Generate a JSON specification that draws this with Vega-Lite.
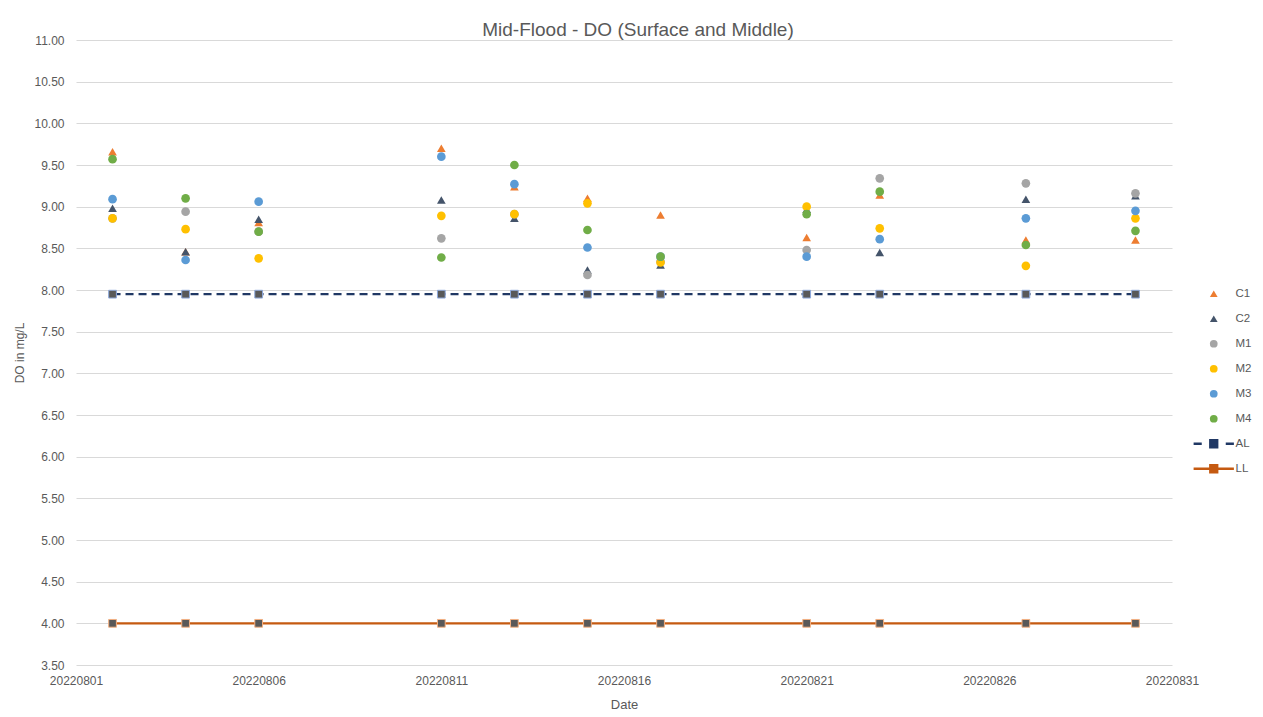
{
  "$schema": "https://vega.github.io/schema/vega-lite/v6.json",
  "width": 1096,
  "height": 625,
  "autosize": {"type": "none"},
  "padding": {"left": 76, "top": 40, "right": 91, "bottom": 52},
  "background": "white",
  "title": {
    "text": "Mid-Flood - DO (Surface and Middle)",
    "anchor": "middle",
    "dx": 14,
    "offset": -21,
    "baseline": "alphabetic",
    "fontSize": 19,
    "fontWeight": "normal",
    "color": "#595959",
    "font": "Liberation Sans"
  },
  "config": {
    "view": {"stroke": null},
    "font": "Liberation Sans"
  },
  "datasets": {
    "obs": [
      {"date": "2022-08-02", "series": "C1", "value": 9.66},
      {"date": "2022-08-04", "series": "C1", "value": 8.46},
      {"date": "2022-08-06", "series": "C1", "value": 8.81},
      {"date": "2022-08-11", "series": "C1", "value": 9.70},
      {"date": "2022-08-13", "series": "C1", "value": 9.24},
      {"date": "2022-08-15", "series": "C1", "value": 9.10},
      {"date": "2022-08-17", "series": "C1", "value": 8.90},
      {"date": "2022-08-21", "series": "C1", "value": 8.63},
      {"date": "2022-08-23", "series": "C1", "value": 9.14},
      {"date": "2022-08-27", "series": "C1", "value": 8.60},
      {"date": "2022-08-30", "series": "C1", "value": 8.60},
      {"date": "2022-08-02", "series": "C2", "value": 8.98},
      {"date": "2022-08-04", "series": "C2", "value": 8.46},
      {"date": "2022-08-06", "series": "C2", "value": 8.85},
      {"date": "2022-08-11", "series": "C2", "value": 9.08},
      {"date": "2022-08-13", "series": "C2", "value": 8.86},
      {"date": "2022-08-15", "series": "C2", "value": 8.24},
      {"date": "2022-08-17", "series": "C2", "value": 8.30},
      {"date": "2022-08-21", "series": "C2", "value": 8.97},
      {"date": "2022-08-23", "series": "C2", "value": 8.45},
      {"date": "2022-08-27", "series": "C2", "value": 9.09},
      {"date": "2022-08-30", "series": "C2", "value": 9.13},
      {"date": "2022-08-02", "series": "M1", "value": 8.86},
      {"date": "2022-08-04", "series": "M1", "value": 8.94},
      {"date": "2022-08-06", "series": "M1", "value": 8.70},
      {"date": "2022-08-11", "series": "M1", "value": 8.62},
      {"date": "2022-08-13", "series": "M1", "value": 8.91},
      {"date": "2022-08-15", "series": "M1", "value": 8.18},
      {"date": "2022-08-17", "series": "M1", "value": 8.34},
      {"date": "2022-08-21", "series": "M1", "value": 8.48},
      {"date": "2022-08-23", "series": "M1", "value": 9.34},
      {"date": "2022-08-27", "series": "M1", "value": 9.28},
      {"date": "2022-08-30", "series": "M1", "value": 9.16},
      {"date": "2022-08-02", "series": "M2", "value": 8.86},
      {"date": "2022-08-04", "series": "M2", "value": 8.73},
      {"date": "2022-08-06", "series": "M2", "value": 8.38},
      {"date": "2022-08-11", "series": "M2", "value": 8.89},
      {"date": "2022-08-13", "series": "M2", "value": 8.91},
      {"date": "2022-08-15", "series": "M2", "value": 9.04},
      {"date": "2022-08-17", "series": "M2", "value": 8.33},
      {"date": "2022-08-21", "series": "M2", "value": 9.00},
      {"date": "2022-08-23", "series": "M2", "value": 8.74},
      {"date": "2022-08-27", "series": "M2", "value": 8.29},
      {"date": "2022-08-30", "series": "M2", "value": 8.86},
      {"date": "2022-08-02", "series": "M3", "value": 9.09},
      {"date": "2022-08-04", "series": "M3", "value": 8.36},
      {"date": "2022-08-06", "series": "M3", "value": 9.06},
      {"date": "2022-08-11", "series": "M3", "value": 9.60},
      {"date": "2022-08-13", "series": "M3", "value": 9.27},
      {"date": "2022-08-15", "series": "M3", "value": 8.51},
      {"date": "2022-08-17", "series": "M3", "value": 8.40},
      {"date": "2022-08-21", "series": "M3", "value": 8.40},
      {"date": "2022-08-23", "series": "M3", "value": 8.61},
      {"date": "2022-08-27", "series": "M3", "value": 8.86},
      {"date": "2022-08-30", "series": "M3", "value": 8.95},
      {"date": "2022-08-02", "series": "M4", "value": 9.57},
      {"date": "2022-08-04", "series": "M4", "value": 9.10},
      {"date": "2022-08-06", "series": "M4", "value": 8.70},
      {"date": "2022-08-11", "series": "M4", "value": 8.39},
      {"date": "2022-08-13", "series": "M4", "value": 9.50},
      {"date": "2022-08-15", "series": "M4", "value": 8.72},
      {"date": "2022-08-17", "series": "M4", "value": 8.40},
      {"date": "2022-08-21", "series": "M4", "value": 8.91},
      {"date": "2022-08-23", "series": "M4", "value": 9.18},
      {"date": "2022-08-27", "series": "M4", "value": 8.54},
      {"date": "2022-08-30", "series": "M4", "value": 8.71}
    ],
    "limits": [
      {"date": "2022-08-02", "series": "AL", "value": 7.95},
      {"date": "2022-08-04", "series": "AL", "value": 7.95},
      {"date": "2022-08-06", "series": "AL", "value": 7.95},
      {"date": "2022-08-11", "series": "AL", "value": 7.95},
      {"date": "2022-08-13", "series": "AL", "value": 7.95},
      {"date": "2022-08-15", "series": "AL", "value": 7.95},
      {"date": "2022-08-17", "series": "AL", "value": 7.95},
      {"date": "2022-08-21", "series": "AL", "value": 7.95},
      {"date": "2022-08-23", "series": "AL", "value": 7.95},
      {"date": "2022-08-27", "series": "AL", "value": 7.95},
      {"date": "2022-08-30", "series": "AL", "value": 7.95},
      {"date": "2022-08-02", "series": "LL", "value": 4.0},
      {"date": "2022-08-04", "series": "LL", "value": 4.0},
      {"date": "2022-08-06", "series": "LL", "value": 4.0},
      {"date": "2022-08-11", "series": "LL", "value": 4.0},
      {"date": "2022-08-13", "series": "LL", "value": 4.0},
      {"date": "2022-08-15", "series": "LL", "value": 4.0},
      {"date": "2022-08-17", "series": "LL", "value": 4.0},
      {"date": "2022-08-21", "series": "LL", "value": 4.0},
      {"date": "2022-08-23", "series": "LL", "value": 4.0},
      {"date": "2022-08-27", "series": "LL", "value": 4.0},
      {"date": "2022-08-30", "series": "LL", "value": 4.0}
    ]
  },
  "encoding": {
    "x": {
      "field": "date",
      "type": "temporal",
      "title": "Date",
      "scale": {
        "type": "utc",
        "domain": [
          {"year": 2022, "month": 8, "date": 1, "utc": true},
          {"year": 2022, "month": 8, "date": 31, "utc": true}
        ]
      },
      "axis": {
        "values": [
          {"year": 2022, "month": 8, "date": 1, "utc": true},
          {"year": 2022, "month": 8, "date": 6, "utc": true},
          {"year": 2022, "month": 8, "date": 11, "utc": true},
          {"year": 2022, "month": 8, "date": 16, "utc": true},
          {"year": 2022, "month": 8, "date": 21, "utc": true},
          {"year": 2022, "month": 8, "date": 26, "utc": true},
          {"year": 2022, "month": 8, "date": 31, "utc": true}
        ],
        "labelExpr": "utcFormat(datum.value, '%Y%m%d')",
        "grid": false,
        "domain": false,
        "ticks": false,
        "tickSize": 0,
        "labelPadding": 10,
        "labelFontSize": 12,
        "labelColor": "#595959",
        "labelFlush": false,
        "labelOverlap": false,
        "titleFontSize": 13,
        "titleFontWeight": "normal",
        "titleColor": "#595959",
        "titlePadding": 12
      }
    },
    "y": {
      "field": "value",
      "type": "quantitative",
      "title": "DO in mg/L",
      "scale": {"domain": [3.5, 11], "nice": false, "zero": false},
      "axis": {
        "values": [3.5, 4, 4.5, 5, 5.5, 6, 6.5, 7, 7.5, 8, 8.5, 9, 9.5, 10, 10.5, 11],
        "format": ".2f",
        "grid": true,
        "gridColor": "#D9D9D9",
        "gridWidth": 1,
        "domain": false,
        "ticks": false,
        "tickSize": 0,
        "labelPadding": 12,
        "labelFontSize": 12,
        "labelColor": "#595959",
        "titleFontSize": 12,
        "titleFontWeight": "normal",
        "titleColor": "#595959",
        "titlePadding": 7
      }
    }
  },
  "layer": [
    {
      "data": {"name": "obs"},
      "mark": {"type": "point", "filled": true, "opacity": 1, "size": 75},
      "encoding": {
        "color": {
          "field": "series",
          "type": "nominal",
          "scale": {
            "domain": ["C1", "C2", "M1", "M2", "M3", "M4", "AL", "LL"],
            "range": ["#ED7D31", "#44546A", "#A5A5A5", "#FFC000", "#5B9BD5", "#70AD47", "#203864", "#C55A11"]
          },
          "legend": {
            "title": null,
            "orient": "none",
            "legendX": 1132,
            "legendY": 248,
            "padding": 0,
            "labelFontSize": 11.5,
            "labelColor": "#595959",
            "symbolSize": 60,
            "rowPadding": 12,
            "labelOffset": 16,
            "symbolStrokeWidth": 0,
            "symbolOpacity": 1
          }
        },
        "shape": {
          "field": "series",
          "type": "nominal",
          "scale": {
            "domain": ["C1", "C2", "M1", "M2", "M3", "M4", "AL", "LL"],
            "range": [
              "triangle-up", "triangle-up", "circle", "circle", "circle", "circle",
              "M-5.2,-0.3H-3.1V0.3H-5.2Z M-1.2,-1.2H1.2V1.2H-1.2Z M3.1,-0.3H5.2V0.3H3.1Z",
              "M-5.2,-0.3H5.2V0.3H-5.2Z M-1.2,-1.2H1.2V1.2H-1.2Z"
            ]
          },
          "legend": {
            "title": null,
            "orient": "none",
            "legendX": 1132,
            "legendY": 248,
            "padding": 0,
            "labelFontSize": 11.5,
            "labelColor": "#595959",
            "symbolSize": 60,
            "rowPadding": 12,
            "labelOffset": 16,
            "symbolStrokeWidth": 0,
            "symbolOpacity": 1
          }
        }
      }
    },
    {
      "data": {"name": "limits"},
      "transform": [{"filter": "datum.series === 'AL'"}],
      "mark": {"type": "line", "color": "#203864", "strokeDash": [8, 5], "strokeWidth": 2.25},
      "encoding": {}
    },
    {
      "data": {"name": "limits"},
      "transform": [{"filter": "datum.series === 'AL'"}],
      "mark": {"type": "point", "shape": "square", "filled": true, "fill": "#595959", "stroke": "#8FAADC", "strokeWidth": 1, "opacity": 1, "size": 60},
      "encoding": {}
    },
    {
      "data": {"name": "limits"},
      "transform": [{"filter": "datum.series === 'LL'"}],
      "mark": {"type": "line", "color": "#C55A11", "strokeWidth": 2.25},
      "encoding": {}
    },
    {
      "data": {"name": "limits"},
      "transform": [{"filter": "datum.series === 'LL'"}],
      "mark": {"type": "point", "shape": "square", "filled": true, "fill": "#595959", "stroke": "#F4B183", "strokeWidth": 1, "opacity": 1, "size": 60},
      "encoding": {}
    }
  ]
}
